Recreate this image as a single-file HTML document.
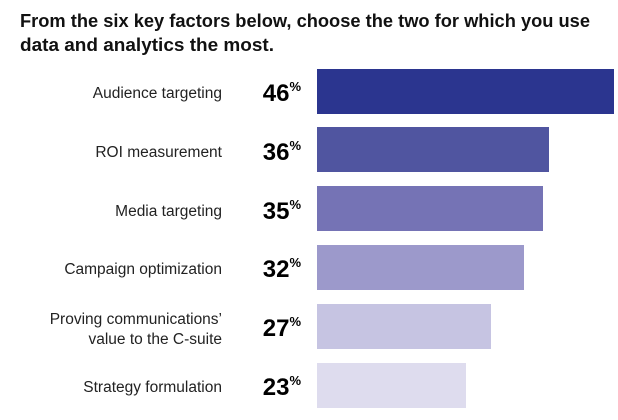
<!DOCTYPE html>
<html><head><style>body{margin:0;background:#fff}</style></head><body>
<svg width="618" height="415" xmlns="http://www.w3.org/2000/svg" font-family="Liberation Sans, sans-serif">
<text x="20" y="27" font-size="18" font-weight="bold" fill="#111" textLength="570" lengthAdjust="spacingAndGlyphs">From the six key factors below, choose the two for which you use</text>
<text x="20" y="51" font-size="18" font-weight="bold" fill="#111" textLength="254" lengthAdjust="spacingAndGlyphs">data and analytics the most.</text>
<g fill="#222" font-size="15.5" text-anchor="end">
<text x="222" y="98">Audience targeting</text>
<text x="222" y="157">ROI measurement</text>
<text x="222" y="216">Media targeting</text>
<text x="222" y="274">Campaign optimization</text>
<text x="222" y="324">Proving communications’</text>
<text x="222" y="344">value to the C-suite</text>
<text x="222" y="392">Strategy formulation</text>
</g>
<g fill="#000" font-weight="bold" text-anchor="end">
<text x="301" y="101" font-size="24">46<tspan font-size="13" dy="-10">%</tspan></text>
<text x="301" y="160" font-size="24">36<tspan font-size="13" dy="-10">%</tspan></text>
<text x="301" y="219" font-size="24">35<tspan font-size="13" dy="-10">%</tspan></text>
<text x="301" y="277" font-size="24">32<tspan font-size="13" dy="-10">%</tspan></text>
<text x="301" y="336" font-size="24">27<tspan font-size="13" dy="-10">%</tspan></text>
<text x="301" y="395" font-size="24">23<tspan font-size="13" dy="-10">%</tspan></text>
</g>
<rect x="317" y="69" width="297" height="45" fill="#2b358f"/>
<rect x="317" y="127" width="232" height="45" fill="#5055a0"/>
<rect x="317" y="186" width="226" height="45" fill="#7573b5"/>
<rect x="317" y="245" width="207" height="45" fill="#9c99cb"/>
<rect x="317" y="304" width="174" height="45" fill="#c6c4e2"/>
<rect x="317" y="363" width="149" height="45" fill="#dedcee"/>
</svg>
</body></html>
